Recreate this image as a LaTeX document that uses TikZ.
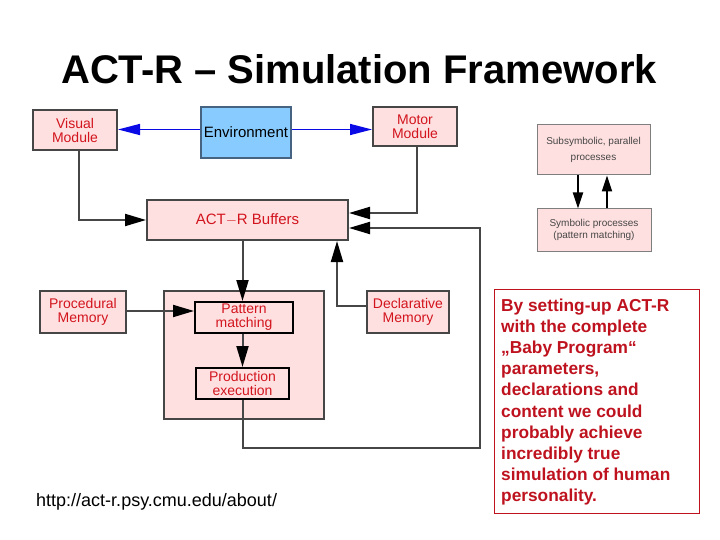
\documentclass[tikz,border=0pt]{standalone}
\usepackage{fontspec}
\setmainfont{Liberation Sans}
\usetikzlibrary{arrows.meta}
\definecolor{pinkfill}{RGB}{255,224,224}
\definecolor{boxgray}{RGB}{70,70,70}
\definecolor{labelred}{RGB}{210,20,30}
\definecolor{envblue}{RGB}{136,204,255}
\definecolor{envborder}{RGB}{70,100,130}
\definecolor{arrblue}{RGB}{10,10,230}
\definecolor{textred}{RGB}{190,18,30}
\definecolor{sidegray}{RGB}{70,70,70}
\tikzset{
  modbox/.style={draw=boxgray, line width=2pt, fill=pinkfill, text=labelred,
    font=\fontsize{14}{14}\selectfont, align=center, inner sep=0pt},
  innerbox/.style={modbox, draw=black},
  sidebox/.style={draw=boxgray!70, line width=1pt, fill=pinkfill, text=sidegray,
    font=\fontsize{10}{12}\selectfont, align=center, inner sep=0pt},
  conn/.style={draw=boxgray, line width=2pt, -{Triangle[length=21pt,width=12pt,color=black]}},
  sideconn/.style={draw=black, line width=2pt, -{Triangle[length=16pt,width=10pt]}},
  blueconn/.style={draw=arrblue, line width=1.5pt, -{Triangle[length=22pt,width=11pt]}}
}
\begin{document}
\begin{tikzpicture}[x=1pt,y=-1pt]
\useasboundingbox (0,0) rectangle (720,540);
% title
\node[font=\fontsize{40}{44}\selectfont\bfseries, anchor=base] (title) at (359,84) {ACT-R – Simulation Framework};
% modules
\node[modbox, minimum width=84pt, minimum height=40pt] (visual) at (75,130) {Visual\\Module};
\node[draw=envborder, line width=1.2pt, fill=envblue, font=\fontsize{15}{14}\selectfont,
  inner sep=0pt, minimum width=90pt, minimum height=51pt] (env) at (246,132.5) {Environment};
\node[modbox, minimum width=84pt, minimum height=39pt] (motor) at (415,126.5) {Motor\\Module};
\node[modbox, font=\fontsize{15}{14}\selectfont, minimum width=201pt, minimum height=40pt] (buffers) at (247.5,220) {ACT\(-\)R Buffers};
\node[modbox, minimum width=86pt, minimum height=42pt] (proc) at (83,312) {Procedural\\Memory};
\node[modbox, minimum width=160pt, minimum height=128pt] (central) at (244,355) {};
\node[innerbox, minimum width=98pt, minimum height=31pt] (pattern) at (244,317.5) {Pattern\\matching};
\node[innerbox, minimum width=93pt, minimum height=31pt] (prod) at (242.5,383.5) {Production\\execution};
\node[modbox, minimum width=82pt, minimum height=42pt] (decl) at (408,312) {Declarative\\Memory};
% right panel
\node[sidebox, minimum width=113pt, minimum height=50pt] (sub) at (593.5,150) {Subsymbolic, parallel\\[4pt]processes};
\node[sidebox, minimum width=114pt, minimum height=42pt] (sym) at (594,230) {Symbolic processes\\(pattern matching)};
% connectors
\draw[blueconn] ([yshift=3pt]env.west) -- ([yshift=3pt]env.west -| visual.east);
\draw[blueconn] ([yshift=3pt]env.east) -- ([yshift=3pt]env.east -| motor.west);
\draw[conn] ([xshift=4pt]visual.south) |- (buffers.west);
\draw[conn] ([xshift=2pt]motor.south) |- ([yshift=7pt]buffers.east);
\coordinate (loopcorner) at (480,448);
\draw[conn] (prod.south) |- (loopcorner) |- ([yshift=-8pt]buffers.east);
\draw[conn] (buffers.south -| prod.south) -- (pattern.north -| prod.south);
\draw[conn] ([yshift=6pt]decl.west) -| ([xshift=89.5pt]buffers.south);
\draw[conn] ([yshift=1pt]proc.east) -- ([yshift=1pt]proc.east -| pattern.west);
\draw[conn] (pattern.south -| prod.north) -- (prod.north);
\draw[sideconn] ([xshift=-15.5pt]sub.south) -- ([xshift=-16pt]sym.north);
\draw[sideconn] ([xshift=13pt]sym.north) -- ([xshift=13.5pt]sub.south);
% url
\node[font=\fontsize{18}{20}\selectfont, anchor=base west, inner sep=0pt] (url) at (36,506) {http://act-r.psy.cmu.edu/about/};
% note box
\node[draw=textred, line width=0.8pt, minimum width=205pt, minimum height=224pt, inner sep=0pt] (notebox) at (596.5,401) {};
\node[anchor=north west, inner sep=0pt, align=left, text=textred,
  font=\fontsize{17.3}{21.2}\selectfont\bfseries] (note) at (501,298.3)
  {By setting-up ACT-R\\with the complete\\„Baby Program“\\parameters,\\declarations and\\content we could\\probably achieve\\incredibly true\\simulation of human\\personality.};
\end{tikzpicture}
\end{document}
